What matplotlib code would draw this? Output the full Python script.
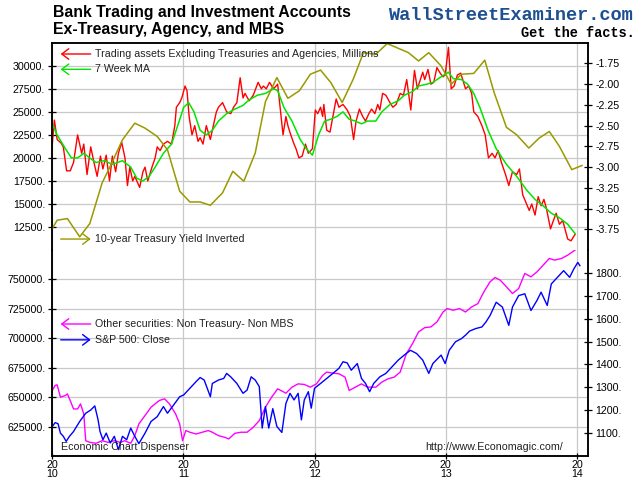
import matplotlib.pyplot as plt
from matplotlib.patches import FancyArrowPatch

plt.rcParams['font.family'] = ['Liberation Sans', 'DejaVu Sans']

# Trading assets ex Treasuries and agencies, millions (weekly)
trading_t = [2010.000, 2010.016, 2010.037, 2010.068, 2010.084, 2010.109, 2010.137, 2010.162, 2010.193, 2010.224,
             2010.240, 2010.265, 2010.293, 2010.318, 2010.342, 2010.367, 2010.386, 2010.411, 2010.436, 2010.458,
             2010.483, 2010.504, 2010.529, 2010.554, 2010.573, 2010.591, 2010.613, 2010.629, 2010.654, 2010.666,
             2010.691, 2010.707, 2010.728, 2010.760, 2010.784, 2010.800, 2010.822, 2010.847, 2010.878, 2010.909,
             2010.934, 2010.946, 2010.971, 2010.987, 2011.012, 2011.027, 2011.043, 2011.065, 2011.086, 2011.111,
             2011.127, 2011.149, 2011.174, 2011.205, 2011.220, 2011.251, 2011.267, 2011.298, 2011.329, 2011.360,
             2011.382, 2011.407, 2011.432, 2011.454, 2011.469, 2011.501, 2011.532, 2011.569, 2011.594, 2011.609,
             2011.631, 2011.656, 2011.687, 2011.718, 2011.737, 2011.759, 2011.781, 2011.796, 2011.818, 2011.843,
             2011.858, 2011.880, 2011.905, 2011.930, 2011.952, 2011.983, 2012.005, 2012.023, 2012.045, 2012.061,
             2012.070, 2012.092, 2012.117, 2012.139, 2012.164, 2012.185, 2012.216, 2012.248, 2012.272, 2012.297,
             2012.316, 2012.341, 2012.366, 2012.388, 2012.413, 2012.434, 2012.459, 2012.481, 2012.497, 2012.518,
             2012.543, 2012.574, 2012.596, 2012.621, 2012.652, 2012.677, 2012.702, 2012.733, 2012.761, 2012.783,
             2012.824, 2012.839, 2012.864, 2012.886, 2012.908, 2012.932, 2012.957, 2012.979, 2012.995, 2013.020,
             2013.041, 2013.063, 2013.088, 2013.113, 2013.129, 2013.150, 2013.175, 2013.197, 2013.213, 2013.244,
             2013.275, 2013.300, 2013.325, 2013.353, 2013.375, 2013.399, 2013.424, 2013.455, 2013.480, 2013.508,
             2013.540, 2013.561, 2013.586, 2013.636, 2013.655, 2013.680, 2013.704, 2013.726, 2013.748, 2013.767,
             2013.798, 2013.820, 2013.841, 2013.866, 2013.891, 2013.929, 2013.954, 2013.985]
trading = [21500, 24100, 22000, 21600, 21200, 18600, 18600, 19500, 22500, 20500,
           21500, 18200, 21200, 19500, 18000, 20200, 18800, 20300, 17500, 20200,
           18500, 20500, 21700, 20000, 17000, 19000, 17500, 18000, 17200, 16800,
           18500, 19000, 17500, 19000, 20000, 21200, 20800, 21500, 21800, 21500,
           23500, 25500, 26000, 26500, 27800, 27300, 24500, 22500, 23500, 21800,
           22200, 21500, 23500, 22000, 23000, 25000, 25500, 26000, 25000, 24800,
           25500, 26000, 28700, 26500, 27000, 26200, 26800, 28200, 27500, 27800,
           27500, 28200, 27500, 28000, 25500, 22500, 24500, 23500, 22500, 21500,
           21000, 20000, 20200, 21500, 20500, 21000, 25200, 24800, 25500, 24500,
           25800, 23000, 22800, 24500, 26400, 25500, 25800, 25200, 24500, 22000,
           24000, 25300, 24500, 24000, 24800, 25300, 24800, 25800, 25200, 27000,
           26800, 26000, 25500, 25800, 27000, 26800, 28500, 25200, 29500, 27500,
           29300, 28500, 29600, 28000, 28200, 29800, 29200, 28800, 29000, 32000,
           27500, 27800, 29000, 29200, 28500, 27500, 27800, 27000, 25000, 24500,
           23500, 22500, 20000, 20500, 20000, 20800, 19500, 18200, 17000, 18500,
           18200, 18800, 16000, 14300, 15000, 13800, 15800, 14800, 15500, 14500,
           12300, 13200, 14000, 12800, 13200, 11200, 11000, 11700]

# 7 week moving average
ma_t = [2010.000, 2010.037, 2010.100, 2010.146, 2010.193, 2010.240, 2010.286, 2010.333, 2010.395, 2010.458,
        2010.535, 2010.598, 2010.644, 2010.691, 2010.738, 2010.784, 2010.847, 2010.909, 2010.956, 2011.002,
        2011.040, 2011.080, 2011.127, 2011.174, 2011.220, 2011.267, 2011.329, 2011.392, 2011.454, 2011.501,
        2011.563, 2011.625, 2011.687, 2011.718, 2011.765, 2011.827, 2011.890, 2011.936, 2011.983, 2012.030,
        2012.076, 2012.123, 2012.170, 2012.216, 2012.263, 2012.310, 2012.357, 2012.403, 2012.466, 2012.512,
        2012.574, 2012.637, 2012.683, 2012.746, 2012.792, 2012.855, 2012.901, 2012.964, 2013.020, 2013.057,
        2013.119, 2013.166, 2013.213, 2013.259, 2013.322, 2013.384, 2013.462, 2013.540, 2013.617, 2013.680,
        2013.742, 2013.804, 2013.866, 2013.929, 2013.985]
ma7 = [23700, 22500, 21000, 20000, 20000, 20500, 20000, 19500, 19700, 19300,
       19700, 19000, 17800, 17500, 18000, 19000, 20500, 21500, 23500, 25500,
       26000, 25000, 23000, 22500, 23000, 24000, 24800, 25300, 25700, 26300,
       26800, 27000, 27500, 27300, 25500, 24000, 22000, 21000, 20300, 22500,
       24000, 24200, 24500, 25000, 24200, 24000, 23700, 24000, 24000, 25000,
       25800, 26200, 26800, 27200, 27800, 28000, 28200, 28800, 29300, 28600,
       28500, 28000, 27000, 25500, 23000, 21000, 19300, 18000, 16500, 15500,
       14800, 14000, 13500, 12800, 11800]

# 10-year Treasury yield, inverted (right axis)
yield_t = [2010.000, 2010.037, 2010.115, 2010.209, 2010.286, 2010.380, 2010.442, 2010.535, 2010.629, 2010.707,
           2010.800, 2010.878, 2010.971, 2011.049, 2011.127, 2011.205, 2011.298, 2011.376, 2011.460, 2011.547,
           2011.625, 2011.712, 2011.796, 2011.883, 2011.967, 2012.045, 2012.123, 2012.210, 2012.294, 2012.372,
           2012.466, 2012.553, 2012.715, 2012.792, 2012.870, 2012.964, 2013.041, 2013.119, 2013.213, 2013.297,
           2013.368, 2013.462, 2013.540, 2013.633, 2013.711, 2013.789, 2013.866, 2013.960, 2014.038]
yield_inv = [-3.74, -3.64, -3.62, -3.84, -3.68, -3.19, -2.99, -2.67, -2.47, -2.53,
             -2.63, -2.79, -3.29, -3.42, -3.42, -3.46, -3.31, -3.05, -3.17, -2.83,
             -2.21, -1.92, -2.17, -2.08, -1.88, -1.83, -1.98, -2.22, -1.94, -1.62,
             -1.64, -1.51, -1.62, -1.72, -1.62, -1.78, -2.00, -1.88, -1.87, -1.71,
             -2.10, -2.52, -2.61, -2.77, -2.65, -2.57, -2.75, -3.03, -2.98]

# Other securities: non Treasury, non MBS (millions)
other_t = [2010.000, 2010.022, 2010.037, 2010.062, 2010.100, 2010.115, 2010.137, 2010.162, 2010.193, 2010.215,
           2010.240, 2010.255, 2010.286, 2010.333, 2010.380, 2010.426, 2010.473, 2010.520, 2010.551, 2010.598,
           2010.629, 2010.660, 2010.707, 2010.753, 2010.816, 2010.856, 2010.893, 2010.940, 2010.971, 2010.993,
           2011.018, 2011.049, 2011.096, 2011.143, 2011.189, 2011.220, 2011.267, 2011.314, 2011.345, 2011.392,
           2011.438, 2011.485, 2011.532, 2011.578, 2011.625, 2011.672, 2011.718, 2011.781, 2011.827, 2011.874,
           2011.921, 2011.967, 2012.014, 2012.061, 2012.092, 2012.139, 2012.185, 2012.232, 2012.263, 2012.310,
           2012.357, 2012.403, 2012.466, 2012.512, 2012.559, 2012.606, 2012.652, 2012.699, 2012.746, 2012.792,
           2012.839, 2012.886, 2012.932, 2012.979, 2013.010, 2013.057, 2013.104, 2013.150, 2013.197, 2013.244,
           2013.290, 2013.337, 2013.375, 2013.415, 2013.462, 2013.508, 2013.555, 2013.602, 2013.649, 2013.695,
           2013.742, 2013.789, 2013.829, 2013.882, 2013.929, 2013.985]
other_sec = [655700, 660000, 660500, 650000, 651400, 652800, 647000, 640000, 640000, 644300,
             635800, 613000, 611600, 610800, 613000, 611600, 613000, 611600, 613000, 610800,
             617300, 627300, 634400, 641500, 647200, 648600, 644300, 635800, 627300, 613000,
             621600, 620200, 618700, 620200, 621600, 620200, 617300, 615900, 614500, 619300,
             620200, 620200, 624400, 630100, 641500, 650000, 657100, 653400, 658500, 661300,
             660800, 658500, 661300, 668500, 671300, 670400, 669900, 667000, 655700, 658500,
             661300, 658500, 658500, 662800, 665600, 667000, 671300, 686900, 695500, 705400,
             709100, 709700, 713900, 722400, 725300, 723900, 725300, 722400, 726700, 729500,
             739500, 748000, 751700, 749400, 743800, 738100, 742300, 755100, 752300, 756500,
             762200, 767900, 766500, 767900, 770700, 775000]

# S&P 500 close (right axis)
spx_t = [2010.000, 2010.022, 2010.044, 2010.062, 2010.084, 2010.106, 2010.131, 2010.162, 2010.209, 2010.255,
         2010.293, 2010.324, 2010.349, 2010.364, 2010.386, 2010.411, 2010.442, 2010.473, 2010.504, 2010.535,
         2010.567, 2010.598, 2010.629, 2010.660, 2010.707, 2010.753, 2010.800, 2010.847, 2010.878, 2010.925,
         2010.971, 2011.002, 2011.049, 2011.096, 2011.127, 2011.158, 2011.205, 2011.220, 2011.267, 2011.307,
         2011.329, 2011.360, 2011.407, 2011.454, 2011.485, 2011.516, 2011.547, 2011.578, 2011.600, 2011.625,
         2011.650, 2011.681, 2011.712, 2011.750, 2011.781, 2011.812, 2011.843, 2011.874, 2011.899, 2011.921,
         2011.952, 2011.974, 2011.999, 2012.045, 2012.092, 2012.139, 2012.185, 2012.216, 2012.248, 2012.279,
         2012.325, 2012.357, 2012.388, 2012.419, 2012.450, 2012.497, 2012.543, 2012.590, 2012.637, 2012.683,
         2012.730, 2012.777, 2012.824, 2012.870, 2012.901, 2012.964, 2012.995, 2013.026, 2013.073, 2013.119,
         2013.150, 2013.181, 2013.228, 2013.275, 2013.306, 2013.337, 2013.384, 2013.431, 2013.480, 2013.508,
         2013.555, 2013.602, 2013.649, 2013.695, 2013.726, 2013.773, 2013.804, 2013.851, 2013.898, 2013.944,
         2013.975, 2014.006, 2014.022]
spx = [1129, 1146, 1141, 1100, 1086, 1064, 1086, 1107, 1151, 1187,
       1201, 1219, 1158, 1107, 1071, 1100, 1057, 1086, 1028, 1086,
       1071, 1122, 1086, 1054, 1100, 1151, 1172, 1216, 1187, 1223,
       1259, 1267, 1296, 1325, 1343, 1332, 1259, 1317, 1332, 1339,
       1361, 1346, 1317, 1274, 1288, 1346, 1332, 1303, 1122, 1216,
       1122, 1207, 1129, 1103, 1230, 1274, 1245, 1274, 1158, 1245,
       1281, 1209, 1296, 1317, 1339, 1361, 1383, 1412, 1407, 1375,
       1404, 1339, 1317, 1281, 1317, 1346, 1361, 1390, 1419, 1441,
       1462, 1448, 1419, 1361, 1404, 1441, 1404, 1462, 1499, 1513,
       1528, 1546, 1557, 1564, 1586, 1614, 1672, 1651, 1571, 1651,
       1701, 1709, 1636, 1680, 1716, 1658, 1752, 1781, 1810, 1781,
       1817, 1846, 1832]

years = [2010, 2011, 2012, 2013, 2014]
top_ticks = [12500, 15000, 17500, 20000, 22500, 25000, 27500, 30000]
yield_ticks = [-3.75, -3.5, -3.25, -3.0, -2.75, -2.5, -2.25, -2.0, -1.75]
bot_ticks = [625000, 650000, 675000, 700000, 725000, 750000]
spx_ticks = [1100, 1200, 1300, 1400, 1500, 1600, 1700, 1800]

fig = plt.figure(figsize=(6.4, 4.8), dpi=100)
ax1 = fig.add_axes([0.0817, 0.479, 0.8375, 0.432])
ax2 = fig.add_axes([0.0817, 0.05, 0.8375, 0.429])
ax1r = ax1.twinx()
ax2r = ax2.twinx()

grid_c = '#c8c8c8'
ax1r.plot(yield_t, yield_inv, color='#999900', lw=1.1)
ax1.plot(trading_t, trading, color='#ff0000', lw=1.0)
ax1.plot(ma_t, ma7, color='#00e600', lw=1.1)
ax2.plot(other_t, other_sec, color='#ff00ff', lw=1.0)
ax2r.plot(spx_t, spx, color='#0000ff', lw=1.0)

for a in (ax1, ax2, ax1r, ax2r):
    a.set_xlim(2010.0, 2014.086)
    for s in a.spines.values():
        s.set_linewidth(1.1)
ax1.set_ylim(10000, 32500)
ax1r.set_ylim(-4.0, -1.5)
ax2.set_ylim(600000, 775000)
ax2r.set_ylim(1000, 1900)

for a in (ax1, ax1r):
    a.spines['bottom'].set_visible(False)
for a in (ax2, ax2r):
    a.spines['top'].set_visible(False)

ax1.set_yticks(top_ticks)
ax1.set_yticklabels([f'{v}.' for v in top_ticks])
ax1r.set_yticks(yield_ticks)
ax1r.set_yticklabels([f'{v:.2f}' for v in yield_ticks])
ax2.set_yticks(bot_ticks)
ax2.set_yticklabels([f'{v}.' for v in bot_ticks])
ax2r.set_yticks(spx_ticks)
ax2r.set_yticklabels([f'{v}.' for v in spx_ticks])

ax1.set_xticks(years)
ax1.tick_params(axis='x', bottom=False, labelbottom=False)
ax1r.tick_params(axis='x', bottom=False, labelbottom=False)
ax2.set_xticks(years)
ax2.set_xticklabels([f'{str(y)[:2]}\n{str(y)[2:]}' for y in years], linespacing=0.85)
ax2.tick_params(axis='x', direction='inout', length=4, width=0.9, labelsize=7.7, pad=1)

for a in (ax1, ax2, ax1r, ax2r):
    a.tick_params(axis='y', direction='inout', length=6, width=0.9, labelsize=7.7, pad=2)

for a in (ax1, ax2):
    a.grid(True, color=grid_c, lw=0.9)
    a.set_axisbelow(True)

# titles and branding
fig.text(0.0823, 0.964, 'Bank Trading and Investment Accounts', fontsize=11.4, fontweight='bold', va='baseline')
fig.text(0.0823, 0.929, 'Ex-Treasury, Agency, and MBS', fontsize=11.4, fontweight='bold', va='baseline')
fig.text(0.989, 0.958, 'WallStreetExaminer.com', family='Liberation Mono', fontweight='bold',
         fontsize=13.4, color='#1d4f91', ha='right', va='baseline')
fig.text(0.992, 0.923, 'Get the facts.', family='Liberation Mono', fontweight='bold',
         fontsize=9.8, color='black', ha='right', va='baseline')


# legend keys with arrows pointing to their axis
def key(y, color, label, to_left=True):
    style = '<-,head_length=0.5,head_width=0.38' if to_left else '->,head_length=0.5,head_width=0.38'
    arr = FancyArrowPatch((0.0948, y), (0.1417, y), transform=fig.transFigure, arrowstyle=style,
                          color=color, lw=1.0, mutation_scale=10, shrinkA=0, shrinkB=0)
    fig.add_artist(arr)
    fig.text(0.1484, y, label, fontsize=7.7, va='center', color='#222222')


key(0.8875, '#ff0000', 'Trading assets Excluding Treasuries and Agencies, Millions')
key(0.8556, '#00e600', '7 Week MA')
key(0.502, '#999900', '10-year Treasury Yield Inverted', to_left=False)
key(0.325, '#ff00ff', 'Other securities: Non Treasury- Non MBS')
key(0.292, '#0000ff', 'S&P 500: Close', to_left=False)

fig.text(0.0948, 0.0694, 'Economic Chart Dispenser', fontsize=7.7, va='center', color='#222222')
fig.text(0.879, 0.0694, 'http://www.Economagic.com/', fontsize=7.7, va='center', ha='right', color='#222222')

fig.savefig('out.png', dpi=100)
